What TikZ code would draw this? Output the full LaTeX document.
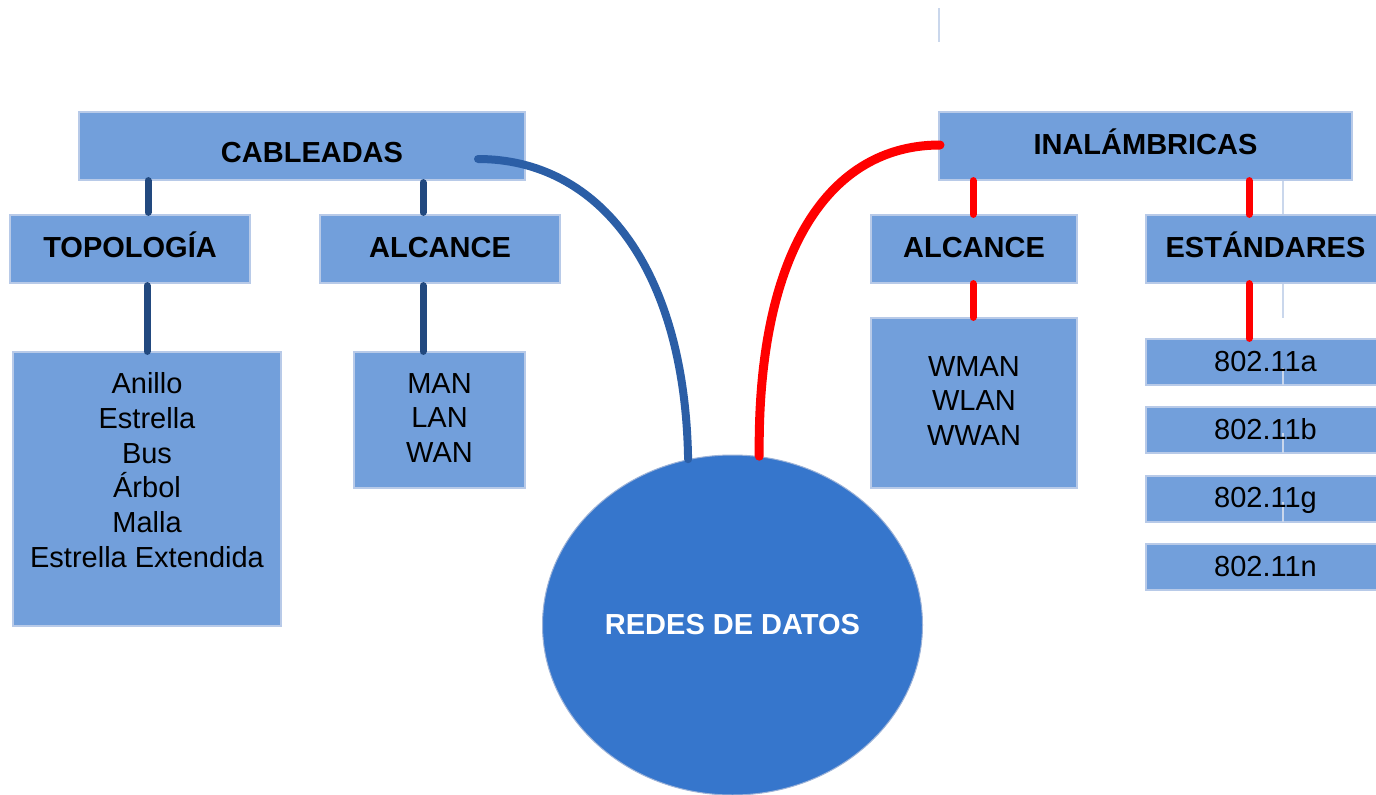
\documentclass[tikz,border=0pt]{standalone}
\usepackage{fontspec}
\setmainfont{Liberation Sans}
\usetikzlibrary{shapes.geometric,calc}
\definecolor{boxfill}{HTML}{729FDB}
\definecolor{boxline}{HTML}{B8CAE8}
\definecolor{hubfill}{HTML}{3676CC}
\definecolor{hubline}{HTML}{9DB3D8}
\definecolor{wired}{HTML}{2B5EA6}
\definecolor{wiredstem}{HTML}{22497F}
\definecolor{wireless}{HTML}{FF0000}
\definecolor{ghost}{HTML}{CAD7EC}
\begin{document}
\begin{tikzpicture}[x=1pt,y=-1pt,
  box/.style={rectangle, draw=boxline, line width=1.2pt, fill=boxfill, inner sep=0pt},
  head/.style={anchor=base, inner sep=0pt, font=\fontsize{29}{35}\selectfont\bfseries},
  item/.style={inner sep=0pt, align=center, font=\fontsize{29}{34.7}\selectfont},
  hub/.style={ellipse, draw=hubline, line width=1pt, fill=hubfill, inner sep=0pt,
    minimum width=380, minimum height=340, text=white, font=\fontsize{29}{35}\selectfont\bfseries},
  stemblue/.style={draw=wiredstem, line width=7pt, line cap=round},
  stemred/.style={draw=wireless, line width=7pt, line cap=round},
  linkblue/.style={draw=wired, line width=8pt, line cap=round},
  linkred/.style={draw=wireless, line width=9pt, line cap=round},
  faint/.style={draw=ghost, line width=1.5pt}]
\useasboundingbox (0,0) rectangle (1376,795);
\clip (0,0) rectangle (1376,795);

% faint guide lines
\draw[faint] (939,8) -- (939,42);
\draw[faint] (1283,180) -- (1283,318);

% wired branch
\node[box, minimum width=446, minimum height=68] (cab) at (302,146) {};
\node[head] (cabt) at (312,162) {CABLEADAS};
\node[box, minimum width=240, minimum height=68] (topo) at (130,249) {};
\node[head] (topot) at (130,257) {TOPOLOGÍA};
\node[box, minimum width=240, minimum height=68] (alc) at (440,249) {};
\node[head] (alct) at (440,257) {ALCANCE};
\node[box, minimum width=268, minimum height=274] (topl) at (147,489) {};
\node[item] (topli) at (147,470) {Anillo\\Estrella\\Bus\\Árbol\\Malla\\Estrella Extendida};
\node[box, minimum width=171, minimum height=136] (alcl) at (439.5,420) {};
\node[item] (alcli) at (439.5,418) {MAN\\LAN\\WAN};

% wireless branch
\node[box, minimum width=413, minimum height=68] (ina) at (1145.5,146) {};
\node[head] (inat) at (1145.5,154) {INALÁMBRICAS};
\node[box, minimum width=206, minimum height=68] (walc) at (974,249) {};
\node[head] (walct) at (974,257) {ALCANCE};
\node[box, minimum width=239, minimum height=68] (std) at (1265.5,249) {};
\node[head] (stdt) at (1265.5,257) {ESTÁNDARES};
\node[box, minimum width=206, minimum height=170] (walcl) at (974,403) {};
\node[item] (walcli) at (974,401) {WMAN\\WLAN\\WWAN};
\node[box, minimum width=239, minimum height=46] (sa) at (1265.5,362) {};
\node[box, minimum width=239, minimum height=46] (sb) at (1265.5,430) {};
\node[box, minimum width=239, minimum height=46] (sg) at (1265.5,499) {};
\node[box, minimum width=239, minimum height=46] (sn) at (1265.5,567) {};
\draw[faint] (1283,368) -- (1283,385);
\draw[faint] (1283,433) -- (1283,453);
\draw[faint] (1283,502) -- (1283,522);
\node[anchor=base, inner sep=0pt, font=\fontsize{29}{35}\selectfont] (sat) at (1265.5,371) {802.11a};
\node[anchor=base, inner sep=0pt, font=\fontsize{29}{35}\selectfont] (sbt) at (1265.5,439) {802.11b};
\node[anchor=base, inner sep=0pt, font=\fontsize{29}{35}\selectfont] (sgt) at (1265.5,507) {802.11g};
\node[anchor=base, inner sep=0pt, font=\fontsize{29}{35}\selectfont] (snt) at (1265.5,576) {802.11n};

% central hub
\node[hub] (redes) at (732.5,625) {REDES DE DATOS};

% short stems
\draw[stemblue] ([xshift=18pt]topo.north |- cab.south) -- ([xshift=18pt,yshift=2pt]topo.north);
\draw[stemblue] ([xshift=-17pt]alc.north |- cab.south) ++(0,2) -- ([xshift=-17pt,yshift=2pt]alc.north);
\draw[stemblue] (topl.north |- topo.south) ++(0,2) -- (topl.north);
\draw[stemblue] ([xshift=-16.5pt]alcl.north |- alc.south) ++(0,2) -- ([xshift=-16.5pt]alcl.north);
\draw[stemred] ([xshift=-1pt]walc.north |- ina.south) -- ([xshift=-1pt]walc.north);
\draw[stemred] ([xshift=-16.5pt]std.north |- ina.south) -- ([xshift=-16.5pt]std.north);
\draw[stemred] ([xshift=-1pt]walcl.north |- walc.south) -- ([xshift=-1pt]walcl.north);
\draw[stemred] ([xshift=-16.5pt]sa.north |- std.south) -- ([xshift=-16.5pt]sa.north);

% links to the hub
\coordinate (cabend) at (478,159);
\coordinate (inaend) at (940,145);
\draw[linkblue] (cabend) .. controls (600,159) and (685,270) .. (redes.105.8);
\draw[linkred] (redes.81.5) .. controls (757,250) and (830,145) .. (inaend);
\end{tikzpicture}
\end{document}
